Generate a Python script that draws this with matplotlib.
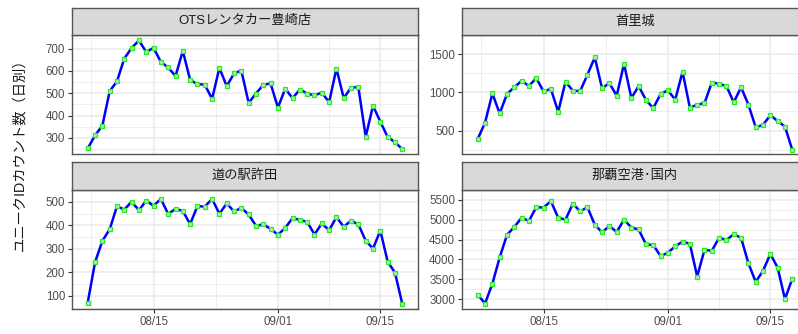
import numpy as np
import pandas as pd
import matplotlib
matplotlib.use("Agg")
import matplotlib.pyplot as plt
import matplotlib.dates as mdates

plt.rcParams['font.family'] = ['Liberation Sans', 'Noto Sans CJK JP', 'DejaVu Sans']

dates = pd.date_range("2019-08-06", "2019-09-18", freq="D")

ots_toyosaki = [253, 311, 355, 509, 554, 656, 703, 737, 685, 704, 640, 616, 577, 690,
                560, 541, 539, 475, 614, 532, 589, 602, 457, 499, 538, 544, 436, 521,
                478, 517, 499, 491, 503, 460, 611, 478, 526, 527, 305, 444, 373, 304,
                281, 250]
shurijo = [390, 603, 985, 723, 978, 1067, 1150, 1082, 1187, 1011, 1045, 745, 1139,
           1022, 1015, 1232, 1457, 1052, 1120, 955, 1374, 925, 1082, 899, 794, 978,
           1026, 903, 1270, 798, 839, 858, 1127, 1112, 1082, 869, 1067, 839, 543,
           573, 700, 625, 551, 247]
kyoda = [72, 243, 334, 383, 481, 467, 500, 464, 505, 483, 512, 448, 470, 461, 405,
         482, 479, 512, 449, 493, 459, 474, 446, 398, 404, 385, 360, 389, 431, 423,
         415, 361, 408, 379, 435, 394, 420, 404, 335, 301, 378, 246, 199, 67]
naha_domestic = [3112, 2888, 3385, 4050, 4619, 4819, 5051, 4971, 5316, 5308, 5468,
                 5051, 5003, 5404, 5212, 5316, 4875, 4683, 4843, 4691, 5003, 4803,
                 4755, 4378, 4362, 4082, 4170, 4330, 4450, 4394, 3569, 4242, 4218,
                 4546, 4490, 4635, 4546, 3905, 3433, 3713, 4138, 3793, 3000, 3513]

titles = ["OTSレンタカー豊崎店", "首里城", "道の駅許田", "那覇空港･国内"]
series = [ots_toyosaki, shurijo, kyoda, naha_domestic]
y_breaks = [[300, 400, 500, 600, 700],
            [500, 1000, 1500],
            [100, 200, 300, 400, 500],
            [3000, 3500, 4000, 4500, 5000, 5500]]
x_breaks = pd.to_datetime(["2019-08-15", "2019-09-01", "2019-09-15"])
x_minor = pd.to_datetime(["2019-08-06 12:00", "2019-08-23 12:00", "2019-09-08 00:00"])
x_labels = ["08/15", "09/01", "09/15"]
ylabel = "ユニークIDカウント数（日別）"

W, H = 798, 334
fig = plt.figure(figsize=(W / 100, H / 100), dpi=100)

def px_rect(x0, y0, x1, y1):
    return [x0 / W, 1 - y1 / H, (x1 - x0) / W, (y1 - y0) / H]

panel_w = 346
cols = [72, 462]
rows = [(7.5, 35, 154.5), (162, 190, 309)]

border = "#555555"
grid_c = "#EBEBEB"
txt_c = "#4D4D4D"

x0n = mdates.date2num(dates[0])
x1n = mdates.date2num(dates[-1])
pad = (x1n - x0n) * 0.05

for i, (title, vals, yb) in enumerate(zip(titles, series, y_breaks)):
    r, c = divmod(i, 2)
    xs = cols[c]
    st, pt, pb = rows[r]
    ax = fig.add_axes(px_rect(xs, pt, xs + panel_w, pb))
    ax.set_facecolor("white")
    vmin, vmax = min(vals), max(vals)
    ypad = (vmax - vmin) * 0.05
    ax.set_ylim(vmin - ypad, vmax + ypad)
    ax.set_xlim(x0n - pad, x1n + pad)

    ax.set_yticks(yb)
    ax.set_yticklabels([str(v) for v in yb])
    step = yb[1] - yb[0]
    ax.set_yticks([v + step / 2 for v in [yb[0] - step] + yb], minor=True)
    ax.set_xticks(mdates.date2num(x_breaks))
    ax.set_xticks(mdates.date2num(x_minor), minor=True)
    if r == 1:
        ax.set_xticklabels(x_labels)
    else:
        ax.set_xticklabels([])
    ax.grid(True, which="major", color=grid_c, lw=1.1, zorder=0)
    ax.grid(True, which="minor", color=grid_c, lw=0.6, zorder=0)
    ax.set_axisbelow(True)
    ax.tick_params(axis="both", which="major", colors="#333333", labelcolor=txt_c,
                   labelsize=8.3, length=3, width=0.8, pad=2)
    ax.tick_params(axis="both", which="minor", length=0)
    if r == 0:
        ax.tick_params(axis="x", which="major", length=0)
    for sp in ax.spines.values():
        sp.set_color(border)
        sp.set_linewidth(1.0)

    ax.plot(mdates.date2num(dates), vals, color="#0000FF", lw=1.8, zorder=3,
            marker="s", ms=3.3, mfc="#A6F7A6", mec="#2BE62B", mew=0.9)

    sax = fig.add_axes(px_rect(xs, st, xs + panel_w, pt))
    sax.set_facecolor("#D9D9D9")
    sax.set_xticks([])
    sax.set_yticks([])
    for sp in sax.spines.values():
        sp.set_color(border)
        sp.set_linewidth(1.0)
    sax.text(0.5, 0.5, title, ha="center", va="center", fontsize=9.5,
             color="#1A1A1A", transform=sax.transAxes)

fig.text(19 / W, 1 - 151 / H, ylabel, rotation=90, ha="center", va="center",
         fontsize=10.3, color="#1A1A1A")

fig.savefig("out.png", dpi=100)
